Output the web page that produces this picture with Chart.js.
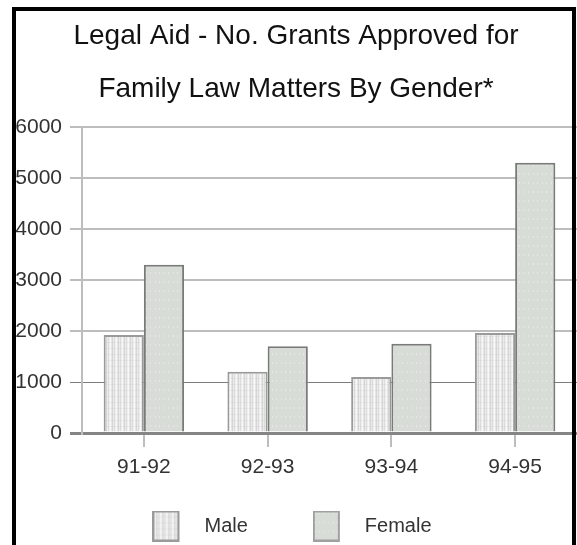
<!DOCTYPE html>
<html>
<head>
<meta charset="utf-8">
<script src="https://cdn.jsdelivr.net/npm/chart.js@4.4.1/dist/chart.umd.min.js"></script>
<style>
  html, body { margin: 0; padding: 0; background: #fff; overflow: hidden; }
  #wrap { position: relative; width: 577px; height: 545px; }
  #frame {
    position: absolute; left: 12px; top: 7px; width: 556px; height: 600px;
    border: 4px solid #000; border-bottom: none; pointer-events: none; z-index: 2;
  }
  canvas { position: absolute; left: 0; top: 0; }
</style>
</head>
<body>
<div id="wrap">
  <canvas id="chart" width="577" height="545"></canvas>
  <div id="frame"></div>
</div>
<script>
// Financial years and number of grants approved
const years = ['91-92', '92-93', '93-94', '94-95'];
const maleGrants = [1920, 1200, 1100, 1960];
const femaleGrants = [3300, 1700, 1750, 5300];
const titleLines = ['Legal Aid - No. Grants Approved for', 'Family Law Matters By Gender*'];
const yTicks = { min: 0, max: 6000, step: 1000 };

// Small tiles used as fill textures
function makeTile(w, h, paint) {
  const c = document.createElement('canvas');
  c.width = w; c.height = h;
  paint(c.getContext('2d'), w, h);
  return c;
}

function paintMale(g, w, h) {
  const cols = ['#dcdcdc', '#efefef', '#f8f8f8', '#e6e6e6', '#d6d6d6', '#ececec'];
  for (let x = 0; x < w; x++) {
    g.fillStyle = cols[x % cols.length];
    g.fillRect(x, 0, 1, h);
  }
  g.fillStyle = 'rgba(0,0,0,0.03)';
  g.fillRect(0, 0, w, 1);
}

function paintFemale(g, w, h) {
  g.fillStyle = '#d7dcd7';
  g.fillRect(0, 0, w, h);
  g.fillStyle = '#e5e9e5';
  g.fillRect(2, 2, 1, 2);
  g.fillRect(6, 2, 1, 2);
}

const maleTile = makeTile(6, 6, paintMale);
const femaleTile = makeTile(9, 9, paintFemale);

const ctx = document.getElementById('chart').getContext('2d');
const malePattern = ctx.createPattern(maleTile, 'repeat');
const femalePattern = ctx.createPattern(femaleTile, 'repeat');

// Legend swatch: textured box on the left, empty room before the text
function legendSwatch(tile, border) {
  return makeTile(42, 31, (g) => {
    g.fillStyle = g.createPattern(tile, 'repeat');
    g.fillRect(0, 0, 27, 31);
    g.strokeStyle = border;
    g.lineWidth = 2;
    g.strokeRect(1, 1, 25, 29);
  });
}
const maleSwatch = legendSwatch(maleTile, '#9a9a9a');
const femaleSwatch = legendSwatch(femaleTile, '#a0a0a0');

// The wide item spacing also pads the legend vertically; extend the legend
// box upward after layout so the row sits just under the category labels,
// and nudge it a little to the left.
const LEGEND_RAISE = 27;
const LEGEND_NUDGE = 4;
const legendRaise = {
  id: 'legendRaise',
  afterLayout(chart) {
    const lg = chart.legend;
    if (lg) {
      lg.top -= LEGEND_RAISE;
      lg.left -= LEGEND_NUDGE;
      lg.right -= LEGEND_NUDGE;
    }
  }
};

new Chart(ctx, {
  type: 'bar',
  data: {
    labels: years,
    datasets: [
      {
        label: 'Male',
        data: maleGrants,
        backgroundColor: malePattern,
        borderColor: '#9a9a9a',
        borderWidth: 2,
        pointStyle: maleSwatch
      },
      {
        label: 'Female',
        data: femaleGrants,
        backgroundColor: femalePattern,
        borderColor: '#7a7a7a',
        borderWidth: 2,
        pointStyle: femaleSwatch
      }
    ]
  },
  plugins: [legendRaise],
  options: {
    responsive: false,
    animation: false,
    devicePixelRatio: 1,
    layout: { padding: { left: 15, right: 0, top: 0, bottom: 0 } },
    datasets: { bar: { categoryPercentage: 0.65, barPercentage: 1.0 } },
    plugins: {
      title: {
        display: true,
        text: titleLines,
        color: '#111',
        font: { family: 'Liberation Sans', size: 28, weight: 'normal', lineHeight: '53px' },
        padding: { top: 10, bottom: 11 }
      },
      legend: {
        display: true,
        position: 'bottom',
        maxHeight: 67,
        labels: {
          usePointStyle: true,
          pointStyleWidth: 42,
          padding: 65,
          color: '#333',
          font: { family: 'Liberation Sans', size: 20 }
        }
      },
      tooltip: { enabled: false }
    },
    scales: {
      x: {
        afterFit: (s) => { s.height = 45; },
        grid: {
          offset: false,
          drawOnChartArea: false,
          drawTicks: true,
          tickLength: 14,
          color: '#bdbdbd',
          lineWidth: 2
        },
        border: { color: '#858585', width: 3 },
        ticks: {
          padding: 8,
          color: '#333',
          font: { family: 'Liberation Sans', size: 21 }
        }
      },
      y: {
        min: yTicks.min,
        max: yTicks.max,
        afterFit: (s) => { s.width = 67; },
        grid: {
          drawTicks: true,
          tickLength: 12,
          color: (c) => c.tick.value === 0 ? '#858585' : (c.tick.value === 1000 ? '#7c7c7c' : '#bdbdbd'),
          lineWidth: (c) => c.tick.value === 0 ? 3 : (c.tick.value === 1000 ? 1 : 2)
        },
        border: { color: '#bdbdbd', width: 2 },
        ticks: {
          stepSize: yTicks.step,
          padding: 8,
          color: '#333',
          font: { family: 'Liberation Sans', size: 21 },
          callback: (v) => String(v)
        }
      }
    }
  }
});
</script>
</body>
</html>
